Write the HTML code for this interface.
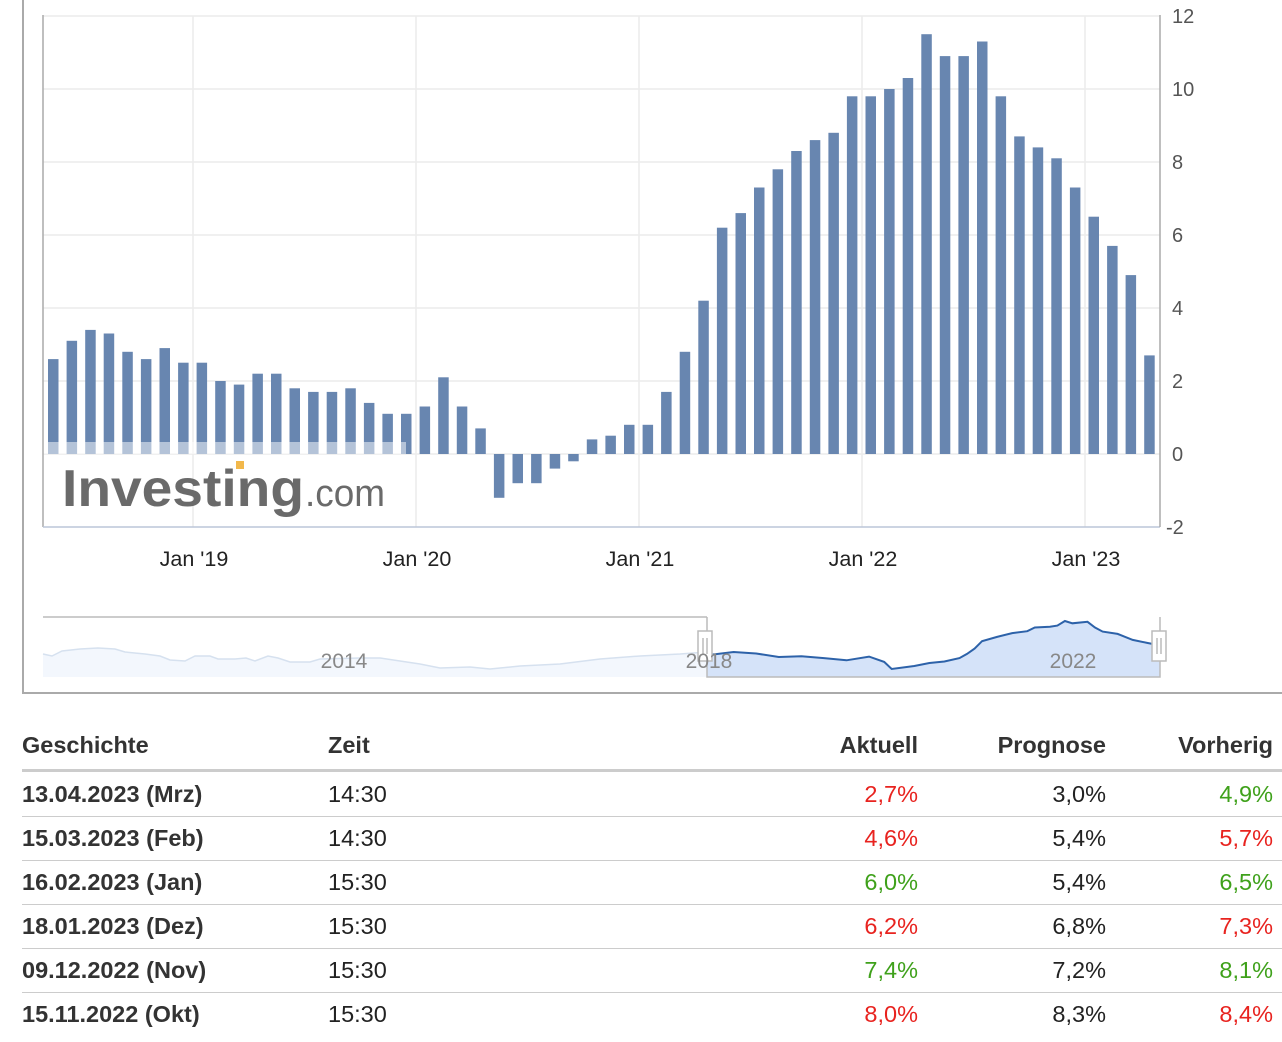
<!DOCTYPE html>
<html><head><meta charset="utf-8"><style>
body{margin:0;background:#fff;width:1282px;height:1042px;overflow:hidden;font-family:"Liberation Sans",Arial,sans-serif;}
svg{position:absolute;left:0;top:0}
.t{position:absolute;font-size:23.5px;color:#222;}
.h{font-weight:bold;color:#333}
.r{text-align:right}
.red{color:#e8231f}.grn{color:#3fa11b}
.line{position:absolute;left:22px;width:1260px;height:1px;background:#ccc}
</style></head><body>
<svg width="1282" height="700" xmlns="http://www.w3.org/2000/svg">
<g stroke="#ececec" stroke-width="1.5">
<line x1="43" y1="16" x2="1160" y2="16"/><line x1="43" y1="89" x2="1160" y2="89"/><line x1="43" y1="162" x2="1160" y2="162"/><line x1="43" y1="235" x2="1160" y2="235"/><line x1="43" y1="308" x2="1160" y2="308"/><line x1="43" y1="381" x2="1160" y2="381"/><line x1="43" y1="454" x2="1160" y2="454"/>
<line x1="193" y1="16" x2="193" y2="527"/><line x1="416" y1="16" x2="416" y2="527"/><line x1="639" y1="16" x2="639" y2="527"/><line x1="862" y1="16" x2="862" y2="527"/><line x1="1085" y1="16" x2="1085" y2="527"/>
</g>
<g fill="#6886b0">
<rect x="48" y="359.1" width="10.5" height="94.9"/><rect x="66.6" y="340.8" width="10.5" height="113.2"/><rect x="85.2" y="329.9" width="10.5" height="124.1"/><rect x="103.7" y="333.5" width="10.5" height="120.5"/><rect x="122.3" y="351.8" width="10.5" height="102.2"/><rect x="140.9" y="359.1" width="10.5" height="94.9"/><rect x="159.5" y="348.1" width="10.5" height="105.9"/><rect x="178.1" y="362.7" width="10.5" height="91.3"/><rect x="196.6" y="362.7" width="10.5" height="91.3"/><rect x="215.2" y="381" width="10.5" height="73"/>
<rect x="233.8" y="384.6" width="10.5" height="69.4"/><rect x="252.4" y="373.7" width="10.5" height="80.3"/><rect x="271" y="373.7" width="10.5" height="80.3"/><rect x="289.5" y="388.3" width="10.5" height="65.7"/><rect x="308.1" y="391.9" width="10.5" height="62.1"/><rect x="326.7" y="391.9" width="10.5" height="62.1"/><rect x="345.3" y="388.3" width="10.5" height="65.7"/><rect x="363.9" y="402.9" width="10.5" height="51.1"/><rect x="382.4" y="413.8" width="10.5" height="40.2"/><rect x="401" y="413.8" width="10.5" height="40.2"/>
<rect x="419.6" y="406.5" width="10.5" height="47.5"/><rect x="438.2" y="377.3" width="10.5" height="76.7"/><rect x="456.8" y="406.5" width="10.5" height="47.5"/><rect x="475.3" y="428.4" width="10.5" height="25.6"/><rect x="493.9" y="454" width="10.5" height="43.8"/><rect x="512.5" y="454" width="10.5" height="29.2"/><rect x="531.1" y="454" width="10.5" height="29.2"/><rect x="549.7" y="454" width="10.5" height="14.6"/><rect x="568.2" y="454" width="10.5" height="7.3"/><rect x="586.8" y="439.4" width="10.5" height="14.6"/>
<rect x="605.4" y="435.7" width="10.5" height="18.3"/><rect x="624" y="424.8" width="10.5" height="29.2"/><rect x="642.6" y="424.8" width="10.5" height="29.2"/><rect x="661.1" y="391.9" width="10.5" height="62.1"/><rect x="679.7" y="351.8" width="10.5" height="102.2"/><rect x="698.3" y="300.7" width="10.5" height="153.3"/><rect x="716.9" y="227.7" width="10.5" height="226.3"/><rect x="735.5" y="213.1" width="10.5" height="240.9"/><rect x="754" y="187.5" width="10.5" height="266.5"/><rect x="772.6" y="169.3" width="10.5" height="284.7"/>
<rect x="791.2" y="151" width="10.5" height="303"/><rect x="809.8" y="140.1" width="10.5" height="313.9"/><rect x="828.4" y="132.8" width="10.5" height="321.2"/><rect x="846.9" y="96.3" width="10.5" height="357.7"/><rect x="865.5" y="96.3" width="10.5" height="357.7"/><rect x="884.1" y="89" width="10.5" height="365"/><rect x="902.7" y="78" width="10.5" height="376"/><rect x="921.3" y="34.2" width="10.5" height="419.8"/><rect x="939.8" y="56.1" width="10.5" height="397.9"/><rect x="958.4" y="56.1" width="10.5" height="397.9"/>
<rect x="977" y="41.5" width="10.5" height="412.5"/><rect x="995.6" y="96.3" width="10.5" height="357.7"/><rect x="1014.2" y="136.4" width="10.5" height="317.6"/><rect x="1032.7" y="147.4" width="10.5" height="306.6"/><rect x="1051.3" y="158.3" width="10.5" height="295.7"/><rect x="1069.9" y="187.5" width="10.5" height="266.5"/><rect x="1088.5" y="216.7" width="10.5" height="237.3"/><rect x="1107.1" y="245.9" width="10.5" height="208.1"/><rect x="1125.6" y="275.1" width="10.5" height="178.9"/><rect x="1144.2" y="355.4" width="10.5" height="98.6"/>
</g>
<rect x="44" y="442" width="362" height="12" fill="#fff" opacity="0.5"/>
<text x="62" y="506" font-family="Liberation Sans,sans-serif" font-size="52" font-weight="bold" fill="#6a6a6a" textLength="242" lengthAdjust="spacingAndGlyphs">Investing</text>
<text x="305" y="506" font-family="Liberation Sans,sans-serif" font-size="38" fill="#6a6a6a" textLength="80" lengthAdjust="spacingAndGlyphs">.com</text>
<rect x="236" y="461" width="8" height="8" fill="#f2b84b"/>
<line x1="43" y1="15" x2="43" y2="527" stroke="#aaa" stroke-width="1.5"/>
<line x1="43" y1="527" x2="1160" y2="527" stroke="#bcc6d8" stroke-width="1.5"/>
<line x1="1160" y1="15" x2="1160" y2="527" stroke="#aaa" stroke-width="1.5"/>
<g font-family="Liberation Sans,sans-serif" font-size="20" fill="#555">
<text x="1172" y="23">12</text><text x="1172" y="96">10</text><text x="1172" y="169">8</text><text x="1172" y="242">6</text><text x="1172" y="315">4</text><text x="1172" y="388">2</text><text x="1172" y="461">0</text><text x="1166" y="534">-2</text>
</g>
<g font-family="Liberation Sans,sans-serif" font-size="21.5" fill="#222" text-anchor="middle">
<text x="194" y="566">Jan '19</text><text x="417" y="566">Jan '20</text><text x="640" y="566">Jan '21</text><text x="863" y="566">Jan '22</text><text x="1086" y="566">Jan '23</text>
</g>
<line x1="43" y1="617" x2="707" y2="617" stroke="#bbb" stroke-width="1.5"/>
<path d="M43 654 L52 656 L62 651 L80 649 L98 648 L115 649 L125 652 L145 654 L160 656 L170 660 L185 661 L195 656 L210 656 L218 659 L235 659 L246 658 L255 661 L268 656 L278 658 L290 662 L310 662 L320 659 L360 658 L380 658 L400 661 L420 664 L440 668 L470 667 L490 669 L520 666 L560 664 L600 659 L640 656 L680 654 L707 652 L707 677 L43 677 Z" fill="#f3f7fd" stroke="none"/>
<path d="M43 654 L52 656 L62 651 L80 649 L98 648 L115 649 L125 652 L145 654 L160 656 L170 660 L185 661 L195 656 L210 656 L218 659 L235 659 L246 658 L255 661 L268 656 L278 658 L290 662 L310 662 L320 659 L360 658 L380 658 L400 661 L420 664 L440 668 L470 667 L490 669 L520 666 L560 664 L600 659 L640 656 L680 654 L707 652" fill="none" stroke="#d6e1ef" stroke-width="1.5"/>
<path d="M707 677 L707 654 L711 654.7 L733.6 652 L756.2 653.5 L778.8 657 L801.4 656.2 L824 658.1 L846.5 660.3 L869.1 656.6 L884.2 661.9 L891.7 669 L914.3 666 L929.4 663 L944.4 661.5 L959.5 658.1 L967 653.9 L974.6 648.6 L982.1 641.1 L997.1 636.9 L1012.2 633.1 L1027.3 631.2 L1034.8 627.5 L1049.9 626.7 L1057.4 625.6 L1064.9 621 L1072.4 623.3 L1087.5 621.8 L1095 627.5 L1102.6 631.6 L1117.6 633.9 L1132.7 639.9 L1147.7 643 L1158 645 L1160 645 L1160 677 Z" fill="#d5e3f9" stroke="none"/>
<path d="M707 654 L711 654.7 L733.6 652 L756.2 653.5 L778.8 657 L801.4 656.2 L824 658.1 L846.5 660.3 L869.1 656.6 L884.2 661.9 L891.7 669 L914.3 666 L929.4 663 L944.4 661.5 L959.5 658.1 L967 653.9 L974.6 648.6 L982.1 641.1 L997.1 636.9 L1012.2 633.1 L1027.3 631.2 L1034.8 627.5 L1049.9 626.7 L1057.4 625.6 L1064.9 621 L1072.4 623.3 L1087.5 621.8 L1095 627.5 L1102.6 631.6 L1117.6 633.9 L1132.7 639.9 L1147.7 643 L1158 645" fill="none" stroke="#2d62a9" stroke-width="2"/>
<path d="M707 617 L707 677 L1160 677 L1160 617" fill="none" stroke="#bbb" stroke-width="1.5"/>
<rect x="698" y="631" width="14" height="30" fill="#fff" stroke="#bbb" stroke-width="1.5"/>
<line x1="703" y1="638" x2="703" y2="654" stroke="#999"/><line x1="707" y1="638" x2="707" y2="654" stroke="#999"/>
<rect x="1152" y="631" width="14" height="30" fill="#fff" stroke="#bbb" stroke-width="1.5"/>
<line x1="1157" y1="638" x2="1157" y2="654" stroke="#999"/><line x1="1161" y1="638" x2="1161" y2="654" stroke="#999"/>
<g font-family="Liberation Sans,sans-serif" font-size="21" fill="#888" text-anchor="middle">
<text x="344" y="668">2014</text><text x="709" y="668">2018</text><text x="1073" y="668">2022</text>
</g>
<line x1="23" y1="0" x2="23" y2="694" stroke="#aaa" stroke-width="2"/>
<line x1="22" y1="693" x2="1282" y2="693" stroke="#aaa" stroke-width="2"/>
</svg>

<div class="t h" style="left:22px;top:732px">Geschichte</div>
<div class="t h" style="left:328px;top:732px">Zeit</div>
<div class="t h r" style="left:700px;width:218px;top:732px">Aktuell</div>
<div class="t h r" style="left:900px;width:206px;top:732px">Prognose</div>
<div class="t h r" style="left:1080px;width:193px;top:732px">Vorherig</div>
<div class="line" style="top:769px;height:3px;background:#ccc"></div>

<div class="t h" style="left:22px;top:781px">13.04.2023 (Mrz)</div><div class="t" style="left:328px;top:781px">14:30</div>
<div class="t r red" style="left:700px;width:218px;top:781px">2,7%</div><div class="t r" style="left:900px;width:206px;top:781px">3,0%</div><div class="t r grn" style="left:1080px;width:193px;top:781px">4,9%</div>
<div class="line" style="top:816px"></div>
<div class="t h" style="left:22px;top:825px">15.03.2023 (Feb)</div><div class="t" style="left:328px;top:825px">14:30</div>
<div class="t r red" style="left:700px;width:218px;top:825px">4,6%</div><div class="t r" style="left:900px;width:206px;top:825px">5,4%</div><div class="t r red" style="left:1080px;width:193px;top:825px">5,7%</div>
<div class="line" style="top:860px"></div>
<div class="t h" style="left:22px;top:869px">16.02.2023 (Jan)</div><div class="t" style="left:328px;top:869px">15:30</div>
<div class="t r grn" style="left:700px;width:218px;top:869px">6,0%</div><div class="t r" style="left:900px;width:206px;top:869px">5,4%</div><div class="t r grn" style="left:1080px;width:193px;top:869px">6,5%</div>
<div class="line" style="top:904px"></div>
<div class="t h" style="left:22px;top:913px">18.01.2023 (Dez)</div><div class="t" style="left:328px;top:913px">15:30</div>
<div class="t r red" style="left:700px;width:218px;top:913px">6,2%</div><div class="t r" style="left:900px;width:206px;top:913px">6,8%</div><div class="t r red" style="left:1080px;width:193px;top:913px">7,3%</div>
<div class="line" style="top:948px"></div>
<div class="t h" style="left:22px;top:957px">09.12.2022 (Nov)</div><div class="t" style="left:328px;top:957px">15:30</div>
<div class="t r grn" style="left:700px;width:218px;top:957px">7,4%</div><div class="t r" style="left:900px;width:206px;top:957px">7,2%</div><div class="t r grn" style="left:1080px;width:193px;top:957px">8,1%</div>
<div class="line" style="top:992px"></div>
<div class="t h" style="left:22px;top:1001px">15.11.2022 (Okt)</div><div class="t" style="left:328px;top:1001px">15:30</div>
<div class="t r red" style="left:700px;width:218px;top:1001px">8,0%</div><div class="t r" style="left:900px;width:206px;top:1001px">8,3%</div><div class="t r red" style="left:1080px;width:193px;top:1001px">8,4%</div>
</body></html>
